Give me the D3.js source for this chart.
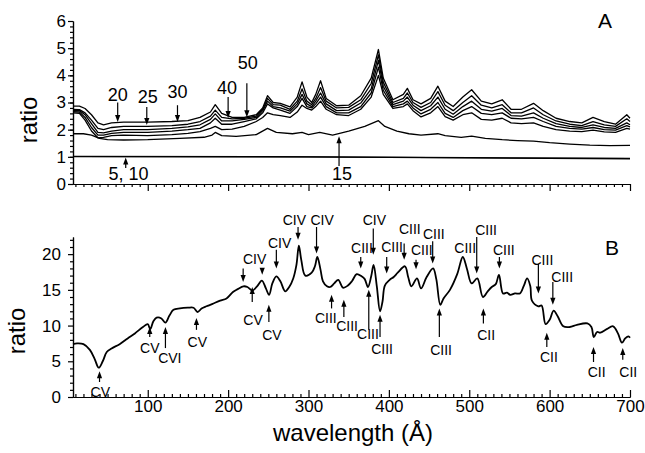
<!DOCTYPE html>
<html>
<head>
<meta charset="utf-8">
<script src="https://cdn.jsdelivr.net/npm/d3@7"></script>
<style>
body { margin: 0; background: #fff; }
text { font-family: "Liberation Sans", Arial, sans-serif; fill: #000; }
</style>
</head>
<body>
<div id="chart"></div>
<script>
// panel A: ratio spectra for several exposures
var waveA = [7, 15, 22, 30, 38, 45, 55, 70, 100, 130, 150, 165, 178, 184, 192, 205, 220, 235, 243, 249, 256, 265, 277, 286, 292, 298, 304, 309, 315, 322, 335, 350, 365, 378, 387, 393, 405, 418, 423, 430, 440, 452, 461, 470, 480, 492, 503, 515, 528, 541, 552, 565, 580, 592, 608, 625, 640, 654, 668, 682, 696, 700]
var ratio20 = [2.87, 2.87, 2.78, 2.55, 2.25, 2.18, 2.25, 2.28, 2.28, 2.3, 2.33, 2.45, 2.65, 2.92, 2.6, 2.45, 2.45, 2.55, 2.8, 3.25, 3.0, 2.97, 2.84, 3.2, 3.76, 3.2, 3.0, 3.3, 3.8, 3.15, 2.88, 2.9, 3.25, 3.9, 4.95, 3.9, 3.1, 3.3, 3.52, 3.1, 2.95, 3.15, 3.6, 3.05, 2.85, 3.2, 3.47, 3.05, 2.95, 3.1, 2.75, 2.75, 2.97, 2.7, 2.42, 2.3, 2.25, 2.45, 2.3, 2.2, 2.55, 2.42]
var ratio25 = [2.75, 2.74, 2.62, 2.35, 2.05, 2.0, 2.08, 2.12, 2.12, 2.15, 2.2, 2.3, 2.5, 2.72, 2.45, 2.4, 2.42, 2.5, 2.75, 3.15, 2.92, 2.9, 2.75, 3.05, 3.5, 3.05, 2.92, 3.15, 3.55, 3.05, 2.8, 2.82, 3.1, 3.7, 4.75, 3.75, 3.0, 3.15, 3.35, 3.0, 2.82, 3.0, 3.4, 2.9, 2.7, 3.0, 3.25, 2.9, 2.8, 2.92, 2.62, 2.62, 2.8, 2.55, 2.32, 2.2, 2.15, 2.3, 2.18, 2.12, 2.4, 2.3]
var ratio30 = [2.7, 2.7, 2.55, 2.22, 1.9, 1.88, 1.95, 2.0, 2.0, 2.05, 2.1, 2.18, 2.38, 2.58, 2.32, 2.32, 2.38, 2.45, 2.7, 3.05, 2.85, 2.8, 2.68, 2.95, 3.3, 2.95, 2.85, 3.05, 3.35, 2.95, 2.7, 2.72, 2.98, 3.5, 4.55, 3.6, 2.92, 3.05, 3.2, 2.9, 2.7, 2.88, 3.2, 2.75, 2.57, 2.85, 3.05, 2.75, 2.68, 2.78, 2.52, 2.5, 2.62, 2.42, 2.22, 2.12, 2.08, 2.18, 2.08, 2.05, 2.25, 2.18]
var ratio40 = [2.66, 2.65, 2.45, 2.08, 1.8, 1.8, 1.86, 1.9, 1.9, 1.95, 2.0, 2.05, 2.25, 2.42, 2.2, 2.2, 2.3, 2.4, 2.62, 2.95, 2.8, 2.72, 2.6, 2.85, 3.15, 2.85, 2.8, 2.95, 3.2, 2.85, 2.62, 2.62, 2.85, 3.35, 4.3, 3.45, 2.85, 2.95, 3.05, 2.8, 2.58, 2.75, 3.0, 2.6, 2.45, 2.7, 2.85, 2.6, 2.55, 2.62, 2.42, 2.4, 2.45, 2.3, 2.12, 2.05, 2.02, 2.08, 2.0, 1.98, 2.15, 2.1]
var ratio50 = [2.62, 2.6, 2.35, 1.95, 1.7, 1.72, 1.78, 1.8, 1.78, 1.82, 1.86, 1.93, 2.05, 2.12, 2.0, 2.02, 2.12, 2.3, 2.45, 2.62, 2.55, 2.52, 2.45, 2.65, 2.9, 2.78, 2.72, 2.85, 3.05, 2.75, 2.55, 2.52, 2.75, 3.2, 4.0, 3.3, 2.78, 2.85, 2.95, 2.7, 2.47, 2.62, 2.85, 2.48, 2.35, 2.55, 2.62, 2.38, 2.35, 2.42, 2.25, 2.22, 2.25, 2.12, 2.0, 1.95, 1.93, 1.98, 1.92, 1.9, 2.05, 2.02]

var wave15 = [7, 20, 30, 40, 50, 70, 100, 140, 170, 180, 184, 192, 210, 235, 249, 260, 280, 292, 300, 314, 330, 350, 370, 387, 395, 410, 425, 440, 461, 470, 490, 503, 520, 541, 560, 580, 600, 625, 650, 675, 700]
var ratio15 = [1.85, 1.85, 1.8, 1.68, 1.63, 1.62, 1.63, 1.68, 1.72, 1.8, 1.9, 1.78, 1.75, 1.82, 2.05, 1.9, 1.85, 1.9, 1.82, 1.9, 1.8, 1.95, 2.12, 2.33, 2.12, 1.95, 1.85, 1.8, 1.85, 1.78, 1.72, 1.76, 1.68, 1.63, 1.6, 1.58, 1.52, 1.47, 1.43, 1.41, 1.42]

var waveLow = [7, 300, 500, 700]
var ratio5 = [1.01, 1.0, 0.96, 0.93]
var ratio10 = [1.02, 1.0, 0.97, 0.94]

// panel B: single ratio spectrum
var waveB = [7, 12, 20, 28, 34, 39, 44, 49, 55, 65, 75, 84, 94, 100, 103, 107, 111, 117, 122, 127, 132, 140, 150, 157, 162, 167, 173, 180, 190, 198, 206, 212, 219, 224, 230, 236, 242, 247, 251, 255, 260, 265, 271, 276, 281, 285, 288, 291, 296, 304, 308, 311, 315, 318, 323, 327, 332, 337, 343, 349, 354, 360, 366, 370, 374, 378, 381, 385, 389, 392, 395, 401, 406, 411, 420, 424, 428, 435, 440, 447, 455, 459, 464, 468, 476, 485, 492, 497, 503, 510, 517, 523, 528, 533, 537, 542, 547, 551, 557, 563, 568, 572, 576, 578, 586, 590, 595, 600, 605, 610, 617, 625, 634, 647, 652, 655, 659, 663, 671, 679, 685, 690, 694, 698, 700]
var ratioB = [7.4, 7.5, 7.4, 6.6, 5.3, 4.1, 5.0, 6.3, 6.8, 7.4, 8.2, 8.9, 9.8, 10.2, 9.5, 10.6, 11.1, 11.0, 10.4, 11.4, 12.2, 12.4, 12.5, 12.5, 11.9, 12.4, 12.7, 13.0, 13.5, 13.8, 14.7, 15.1, 15.5, 15.4, 14.9, 15.5, 16.3, 15.2, 14.3, 15.9, 16.9, 16.2, 14.8, 15.4, 16.6, 18.5, 21.2, 19.2, 17.0, 17.4, 18.3, 19.6, 17.8, 16.2, 15.5, 15.4, 15.9, 16.4, 15.3, 15.6, 16.2, 17.2, 16.9, 16.5, 15.4, 16.9, 18.5, 15.5, 12.0, 13.3, 15.6, 16.4, 16.8, 17.4, 18.3, 16.8, 15.5, 16.6, 15.2, 16.8, 18.0, 16.5, 12.9, 13.8, 15.0, 17.2, 19.6, 18.0, 15.9, 16.6, 14.0, 14.8, 15.4, 15.8, 17.1, 14.5, 14.6, 14.3, 14.5, 14.5, 15.6, 16.6, 15.5, 13.5, 12.7, 12.8, 10.2, 10.8, 12.1, 11.3, 9.9, 9.8, 10.1, 10.3, 9.8, 8.4, 9.1, 9.0, 9.5, 9.9, 8.9, 7.6, 8.2, 8.5, 8.3]

// arrow labels: w = arrow position, tip/tail in ratio units, lw/ly = label position
var notesA = [
    {t: "20", w: 62.6, tip: 2.28, tail: 3.0, lw: 62.6, ly: 3.05},
    {t: "25", w: 98.8, tip: 2.17, tail: 2.83, lw: 100, ly: 2.98},
    {t: "30", w: 137, tip: 2.28, tail: 2.9, lw: 137, ly: 3.16},
    {t: "40", w: 200, tip: 2.43, tail: 3.2, lw: 198.5, ly: 3.31},
    {t: "50", w: 223.3, tip: 2.46, tail: 3.71, lw: 224.5, ly: 4.23},
    {t: "15", w: 338, tip: 1.76, tail: 0.66, lw: 341.6, ly: 0.15},
    {t: "5, 10", w: 72.6, tip: 0.98, tail: 0.59, lw: 76, ly: 0.15}
]
var notesB = [
    {t: "CV", w: 40, tip: 3.6, tail: 2.1, lw: 41, ly: 0},
    {t: "CV", w: 102.5, tip: 9.8, tail: 8.4, lw: 102.6, ly: 6.15},
    {t: "CVI", w: 122, tip: 9.8, tail: 6.85, lw: 127.5, ly: 4.75},
    {t: "CV", w: 160.6, tip: 11.05, tail: 9.4, lw: 161.6, ly: 7.0},
    {t: "CIV", w: 218.7, tip: 16.1, tail: 18.0, lw: 233, ly: 18.6},
    {t: "", w: 242.4, tip: 17.1, tail: 18.0},
    {t: "CV", w: 230, tip: 15.4, tail: 13.3, lw: 231, ly: 10.1},
    {t: "CV", w: 250.7, tip: 12.9, tail: 10.5, lw: 254.5, ly: 8.0},
    {t: "CIV", w: 260, tip: 18.0, tail: 20.6, lw: 264, ly: 20.8},
    {t: "CIV", w: 287, tip: 22.0, tail: 23.8, lw: 282.4, ly: 24.1},
    {t: "CIV", w: 310, tip: 20.1, tail: 23.8, lw: 317, ly: 24.1},
    {t: "CIII", w: 328.7, tip: 14.3, tail: 12.4, lw: 321.6, ly: 10.35},
    {t: "CIII", w: 344, tip: 13.6, tail: 11.2, lw: 348, ly: 9.2},
    {t: "CIII", w: 365, tip: 18.0, tail: 19.6, lw: 366.5, ly: 20.1},
    {t: "CIII", w: 375, tip: 15.0, tail: 9.4, lw: 374, ly: 8.1},
    {t: "CIV", w: 380.6, tip: 19.9, tail: 23.6, lw: 382, ly: 24.1},
    {t: "CIII", w: 389, tip: 11.5, tail: 8.4, lw: 391.5, ly: 6.0},
    {t: "CIII", w: 397.3, tip: 17.3, tail: 19.6, lw: 404, ly: 20.3},
    {t: "CIII", w: 419, tip: 19.2, tail: 21.5, lw: 426, ly: 22.8},
    {t: "CIII", w: 433.8, tip: 17.9, tail: 19.2, lw: 441, ly: 19.9},
    {t: "CIII", w: 454.5, tip: 18.7, tail: 21.8, lw: 456, ly: 22.1},
    {t: "CIII", w: 462.8, tip: 12.4, tail: 8.4, lw: 465, ly: 5.9},
    {t: "CIII", w: null, lw: 495, ly: 20.1},
    {t: "CIII", w: 509.3, tip: 17.3, tail: 22.4, lw: 521, ly: 22.7},
    {t: "CII", w: 517.6, tip: 12.4, tail: 10.3, lw: 521, ly: 8.0},
    {t: "CIII", w: 537.5, tip: 18.0, tail: 19.6, lw: 543, ly: 19.9},
    {t: "CIII", w: 586, tip: 14.5, tail: 18.7, lw: 591, ly: 18.5},
    {t: "CII", w: 596.5, tip: 9.0, tail: 7.0, lw: 599, ly: 4.9},
    {t: "CIII", w: 604, tip: 12.9, tail: 16.1, lw: 615.6, ly: 16.1},
    {t: "CII", w: 654.6, tip: 7.0, tail: 4.9, lw: 658.5, ly: 2.8},
    {t: "CII", w: 691, tip: 6.85, tail: 5.2, lw: 697.8, ly: 2.8}
]

var width = 645, height = 453
var svg = d3.select("#chart").append("svg").attr("width", width).attr("height", height)

var x = d3.scaleLinear().domain([7, 700]).range([73, 630])
var yA = d3.scaleLinear().domain([0, 6]).range([184, 21])
var yB = d3.scaleLinear().domain([0, 22.4]).range([397, 237])

var majorX = d3.range(100, 701, 100)
var minorX = d3.range(10, 700, 10).filter(d => d % 100 != 0)

function axisLines(g) {
    g.selectAll("path,line").attr("stroke", "#000").attr("stroke-width", 1.2)
    g.selectAll("text").attr("fill", "#000").style("font-size", "17px")
        .style("font-family", '"Liberation Sans", Arial, sans-serif')
}

// panel A axes
svg.append("g").attr("transform", "translate(0,184)")
    .call(d3.axisBottom(x).tickValues(minorX).tickSize(3).tickSizeOuter(0).tickFormat(""))
    .call(axisLines)
svg.append("g").attr("transform", "translate(0,184)")
    .call(d3.axisBottom(x).tickValues(majorX).tickSize(7).tickSizeOuter(0).tickFormat(""))
    .call(axisLines)
svg.append("g").attr("transform", "translate(73,0)")
    .call(d3.axisLeft(yA).tickValues(d3.range(0.2, 6, 0.2)).tickSize(3).tickSizeOuter(0).tickFormat(""))
    .call(axisLines)
svg.append("g").attr("transform", "translate(73,0)")
    .call(d3.axisLeft(yA).tickValues(d3.range(0, 7)).tickSize(5).tickPadding(2).tickSizeOuter(0).tickFormat(d3.format("d")))
    .call(axisLines)

// panel B axes
svg.append("g").attr("transform", "translate(0,397)")
    .call(d3.axisBottom(x).tickValues(minorX).tickSize(-3).tickSizeOuter(0).tickFormat(""))
    .call(axisLines)
svg.append("g").attr("transform", "translate(0,397)")
    .call(d3.axisBottom(x).tickValues(majorX).tickSize(-7).tickPadding(3).tickSizeOuter(0))
    .call(axisLines)
svg.append("g").attr("transform", "translate(73,0)")
    .call(d3.axisLeft(yB).tickValues(d3.range(1, 23, 1).filter(d => d % 5 != 0)).tickSize(3).tickSizeOuter(0).tickFormat(""))
    .call(axisLines)
svg.append("g").attr("transform", "translate(73,0)")
    .call(d3.axisLeft(yB).tickValues([0, 5, 10, 15, 20]).tickSize(5).tickPadding(7).tickSizeOuter(0))
    .call(axisLines)

// curves
var lineA = (ws, vs) => d3.line().x((d, i) => x(ws[i])).y(d => yA(d))(vs)
var seriesA = [
    [waveLow, ratio5], [waveLow, ratio10], [wave15, ratio15],
    [waveA, ratio50], [waveA, ratio40], [waveA, ratio30], [waveA, ratio25], [waveA, ratio20]
]
svg.append("g").selectAll("path").data(seriesA).join("path")
    .attr("d", d => lineA(d[0], d[1]))
    .attr("fill", "none").attr("stroke", "#000").attr("stroke-width", 1.3)
    .attr("stroke-linejoin", "round")

svg.append("path")
    .attr("d", d3.line().x((d, i) => x(waveB[i])).y(d => yB(d)).curve(d3.curveCatmullRom.alpha(0.5))(ratioB))
    .attr("fill", "none").attr("stroke", "#000").attr("stroke-width", 1.8)
    .attr("stroke-linejoin", "round")

// arrows
function drawArrow(g, px, y1, y2) {
    var dir = y2 > y1 ? 1 : -1
    g.append("line").attr("x1", px).attr("x2", px).attr("y1", y1).attr("y2", y2 - dir * 4)
        .attr("stroke", "#000").attr("stroke-width", 1.2)
    g.append("path")
        .attr("d", `M${px},${y2} L${px - 2.6},${y2 - dir * 7} L${px + 2.6},${y2 - dir * 7} Z`)
        .attr("fill", "#000")
}

var gA = svg.append("g")
notesA.forEach(n => {
    drawArrow(gA, x(n.w), yA(n.tail), yA(n.tip))
    gA.append("text").attr("x", x(n.lw)).attr("y", yA(n.ly)).attr("text-anchor", "middle")
        .style("font-size", "18px").text(n.t)
})

var gB = svg.append("g")
notesB.forEach(n => {
    if (n.w != null) drawArrow(gB, x(n.w), yB(n.tail), yB(n.tip))
    if (n.t) gB.append("text").attr("x", x(n.lw)).attr("y", yB(n.ly)).attr("text-anchor", "middle")
        .style("font-size", "14px").text(n.t)
})

// panel letters and titles
svg.append("text").attr("x", 605).attr("y", 28).attr("text-anchor", "middle").style("font-size", "21px").text("A")
svg.append("text").attr("x", 612).attr("y", 255).attr("text-anchor", "middle").style("font-size", "21px").text("B")

svg.append("text").attr("transform", "translate(37,120) rotate(-90)").attr("text-anchor", "middle")
    .style("font-size", "24px").text("ratio")
svg.append("text").attr("transform", "translate(25,331) rotate(-90)").attr("text-anchor", "middle")
    .style("font-size", "24px").text("ratio")
svg.append("text").attr("x", 353).attr("y", 441).attr("text-anchor", "middle")
    .style("font-size", "24px").text("wavelength (Å)")
</script>
</body>
</html>
